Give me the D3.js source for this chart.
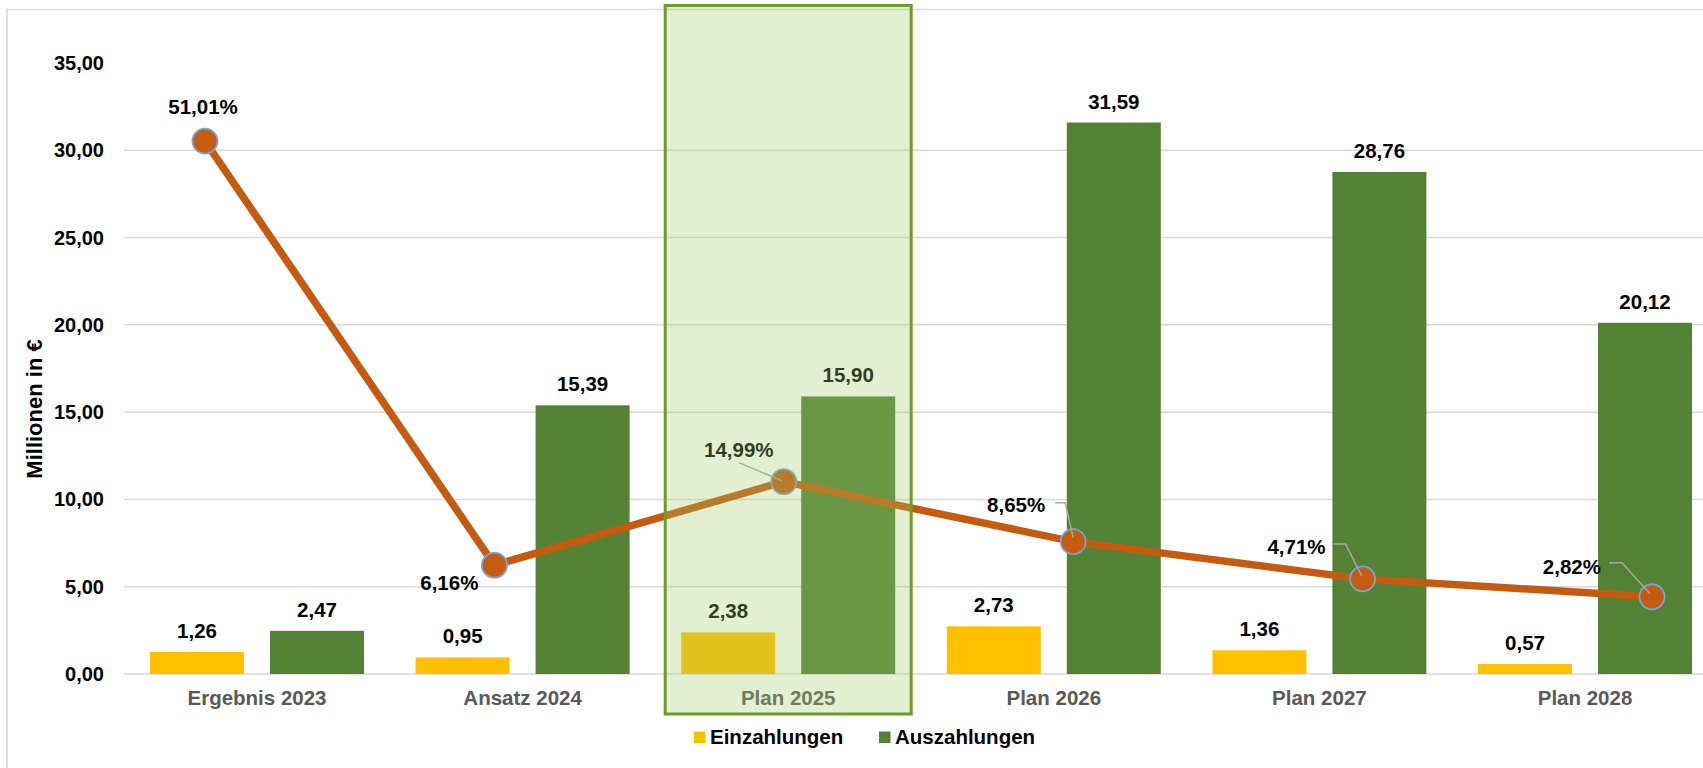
<!DOCTYPE html>
<meta charset="utf-8">
<style>
body { margin: 0; background: #fff; }
text { font-family: "Liberation Sans", Arial, sans-serif; font-weight: bold; }
.tick-label { font-size: 20px; fill: #000; text-anchor: end; }
.cat-label { font-size: 20.5px; fill: #595959; text-anchor: middle; }
.bar-label { font-size: 20.5px; fill: #000; text-anchor: middle; }
.pct-label { font-size: 20.5px; fill: #000; }
.legend text { font-size: 20.5px; fill: #000; }
.grid { stroke: #d9d9d9; stroke-width: 1.5px; }
</style>
<svg width="1703" height="768"></svg>
<script src="https://d3js.org/d3.v7.min.js"></script>
<script>

var categories = ["Ergebnis 2023", "Ansatz 2024", "Plan 2025", "Plan 2026", "Plan 2027", "Plan 2028"];
var einzahlungen = [1.26, 0.95, 2.38, 2.73, 1.36, 0.57];
var auszahlungen = [2.47, 15.39, 15.90, 31.59, 28.76, 20.12];
var anteil = [51.01, 6.16, 14.99, 8.65, 4.71, 2.82];
var yTicks = [0, 5, 10, 15, 20, 25, 30, 35];
var seriesNames = ["Einzahlungen", "Auszahlungen"];
var highlighted = "Plan 2025";

// placement of the percentage labels relative to their point (layout only)
var pctLabelPos = [
  { dx: -2, dy: -34, anchor: "middle", leader: null },
  { dx: -16, dy: 18, anchor: "end", leader: null },
  { dx: -45, dy: -32, anchor: "middle", leader: [[-45, -19], [-2, -1]] },
  { dx: -28, dy: -37, anchor: "end", leader: [[-18, -39], [-8, -39], [0, -4]] },
  { dx: -37, dy: -32, anchor: "end", leader: [[-29, -35], [-17, -35], [-1, -3]] },
  { dx: -51, dy: -30, anchor: "end", leader: [[-43, -34], [-30, -34], [-2, -3]] }
];

var colors = { Einzahlungen: "#ffc000", Auszahlungen: "#548235" };
var fmt = function(v) { return d3.format(".2f")(v).replace(".", ","); };

var svg = d3.select("svg");

// frame
svg.append("path")
    .attr("d", "M7,768V9.5H1703")
    .attr("fill", "none")
    .attr("stroke", "#d9d9d9")
    .attr("stroke-width", 1.5);

var y = d3.scaleLinear().domain([0, 35]).range([674, 63]);
var yPct = d3.scaleLinear().domain([-5.35, 59.27]).range([674, 63]);

var x = d3.scaleBand().domain(categories).range([124.2, 1717.8]);
var xSub = d3.scaleBand().domain(seriesNames).range([0, x.bandwidth()])
    .paddingInner(0.2167).paddingOuter(0.215);
var xLine = d3.scalePoint().domain(categories).range([205, 1652]);

// grid
svg.append("g").selectAll("line")
  .data(yTicks.filter(function(d) { return d < 35; }))
  .enter().append("line")
    .attr("class", "grid")
    .attr("x1", 124).attr("x2", 1703)
    .attr("y1", function(d) { return y(d); })
    .attr("y2", function(d) { return y(d); });

svg.append("g").selectAll("text")
  .data(yTicks)
  .enter().append("text")
    .attr("class", "tick-label")
    .attr("x", 104)
    .attr("y", function(d) { return y(d); })
    .attr("dy", "0.35em")
    .text(fmt);

svg.append("text")
    .attr("transform", "translate(42,409) rotate(-90)")
    .attr("text-anchor", "middle")
    .style("font-size", "22px")
    .text("Millionen in €");

// bars
var rows = categories.map(function(c, i) {
  return { cat: c, values: [
    { key: "Einzahlungen", value: einzahlungen[i] },
    { key: "Auszahlungen", value: auszahlungen[i] }
  ]};
});

var group = svg.append("g").selectAll("g")
  .data(rows)
  .enter().append("g")
    .attr("transform", function(d) { return "translate(" + x(d.cat) + ",0)"; });

group.selectAll("rect")
  .data(function(d) { return d.values; })
  .enter().append("rect")
    .attr("x", function(d) { return xSub(d.key); })
    .attr("width", xSub.bandwidth())
    .attr("y", function(d) { return y(d.value); })
    .attr("height", function(d) { return y(0) - y(d.value); })
    .attr("fill", function(d) { return colors[d.key]; });

group.selectAll("text")
  .data(function(d) { return d.values; })
  .enter().append("text")
    .attr("class", "bar-label")
    .attr("x", function(d) { return xSub(d.key) + xSub.bandwidth() / 2; })
    .attr("y", function(d) { return y(d.value) - 14; })
    .text(function(d) { return fmt(d.value); });

// category labels
svg.append("g").selectAll("text")
  .data(categories)
  .enter().append("text")
    .attr("class", "cat-label")
    .attr("x", function(d) { return x(d) + x.bandwidth() / 2; })
    .attr("y", 698)
    .attr("dy", "0.35em")
    .text(function(d) { return d; });

// line
var line = d3.line()
    .x(function(d, i) { return xLine(categories[i]); })
    .y(function(d) { return yPct(d); });

svg.append("path")
    .datum(anteil)
    .attr("d", line)
    .attr("fill", "none")
    .attr("stroke", "#c55a11")
    .attr("stroke-width", 7.5)
    .attr("stroke-linejoin", "round");

svg.append("g").selectAll("circle")
  .data(anteil)
  .enter().append("circle")
    .attr("cx", function(d, i) { return xLine(categories[i]); })
    .attr("cy", function(d) { return yPct(d); })
    .attr("r", 12.5)
    .attr("fill", "#c55a11")
    .attr("stroke", "#6fa8dc")
    .attr("stroke-width", 1.8);

var pct = svg.append("g").selectAll("g")
  .data(anteil)
  .enter().append("g")
    .attr("transform", function(d, i) { return "translate(" + xLine(categories[i]) + "," + yPct(d) + ")"; });

pct.each(function(d, i) {
  var pos = pctLabelPos[i];
  var g = d3.select(this);
  if (pos.leader) {
    g.append("path")
        .attr("d", d3.line()(pos.leader))
        .attr("fill", "none")
        .attr("stroke", "#a6a6a6")
        .attr("stroke-width", 1.5);
  }
  g.append("text")
      .attr("class", "pct-label")
      .attr("x", pos.dx)
      .attr("y", pos.dy)
      .attr("dy", "0.35em")
      .attr("text-anchor", pos.anchor)
      .text(fmt(d) + "%");
});

// highlight box over the current plan year
var hx = x(highlighted) + x.bandwidth() / 2;
svg.append("rect")
    .attr("x", hx - 123)
    .attr("y", 5.5)
    .attr("width", 246)
    .attr("height", 708.5)
    .attr("fill", "rgb(160,203,100)")
    .attr("fill-opacity", 0.3)
    .attr("stroke", "#6e9b2a")
    .attr("stroke-width", 3);

// legend
var legend = svg.append("g").attr("class", "legend");
var legendX = [694, 879];
seriesNames.forEach(function(s, i) {
  legend.append("rect")
      .attr("x", legendX[i]).attr("y", 731.5)
      .attr("width", 11.5).attr("height", 11.5)
      .attr("fill", colors[s]);
  legend.append("text")
      .attr("x", legendX[i] + 16)
      .attr("y", 737)
      .attr("dy", "0.35em")
      .text(s);
});

</script>
